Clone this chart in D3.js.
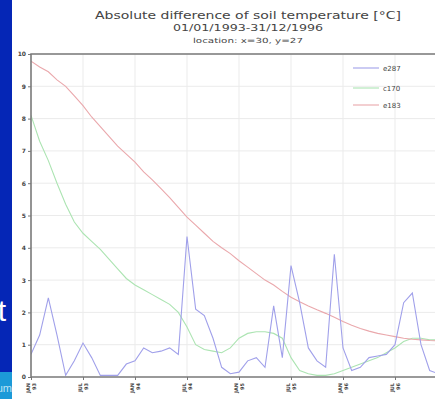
<!DOCTYPE html>
<html>
<head>
<meta charset="utf-8">
<script src="https://cdn.jsdelivr.net/npm/d3@7"></script>
<style>
html,body{margin:0;padding:0;background:#fff;}
svg{display:block;}
</style>
</head>
<body>
<svg id="chart" width="435" height="399"></svg>
<script>
// ---- data (monthly, Jan 1993 - Dec 1996) ----
const seriesNames = ["e287", "c170", "e183"];
const e287 = [0.7,1.3,2.45,1.3,0.05,0.5,1.05,0.6,0.05,0.05,0.05,0.4,
              0.5,0.9,0.75,0.8,0.9,0.7,4.35,2.1,1.9,1.2,0.3,0.1,
              0.15,0.5,0.6,0.3,2.2,0.6,3.45,2.3,0.9,0.5,0.3,3.8,
              0.9,0.2,0.3,0.6,0.65,0.7,1.0,2.3,2.6,1.0,0.2,0.1];
const c170 = [8.1,7.3,6.7,6.0,5.35,4.8,4.45,4.2,3.95,3.65,3.35,3.05,
              2.85,2.7,2.55,2.4,2.25,2.0,1.55,1.0,0.85,0.8,0.75,0.9,
              1.2,1.35,1.4,1.4,1.35,1.2,0.6,0.2,0.1,0.05,0.05,0.1,
              0.2,0.3,0.4,0.5,0.6,0.75,0.9,1.1,1.2,1.2,1.15,1.15];
const e183 = [9.78,9.6,9.45,9.2,9.0,8.7,8.4,8.05,7.75,7.45,7.15,6.9,
              6.65,6.35,6.1,5.83,5.55,5.25,4.95,4.7,4.45,4.2,4.0,3.82,
              3.6,3.4,3.2,3.0,2.85,2.65,2.47,2.33,2.2,2.08,1.97,1.85,
              1.72,1.6,1.5,1.42,1.35,1.3,1.25,1.2,1.17,1.15,1.13,1.12];
const xTickMonths = [0,6,12,18,24,30,36,42];
const xTickLabelMonth = ["JAN","JUL","JAN","JUL","JAN","JUL","JAN","JUL"];
const xTickLabelYear = ["93","93","94","94","95","95","96","96"];
const yTicks = [0,1,2,3,4,5,6,7,8,9,10];
const titleLines = ["Absolute difference of soil temperature [°C]",
                    "01/01/1993-31/12/1996",
                    "location: x=30, y=27"];

const colors = {e287:"#a0a0ea", c170:"#ace4b2", e183:"#eaa8ac"};

const svg = d3.select("#chart");
const L = 31, T = 54, B = 377;
const x = d3.scaleLinear().domain([0,48]).range([L, L + 8*52]);
const y = d3.scaleLinear().domain([0,10]).range([B, T]);
const R = x(48);

// grid
const grid = svg.append("g").attr("stroke","#ebebeb").attr("stroke-width",1);
yTicks.slice(1).forEach(v=>{
  grid.append("line").attr("x1",L).attr("x2",R).attr("y1",y(v)).attr("y2",y(v));
});
xTickMonths.slice(1).forEach(m=>{
  grid.append("line").attr("x1",x(m)).attr("x2",x(m)).attr("y1",T).attr("y2",B);
});

svg.append("defs").append("clipPath").attr("id","clip")
  .append("rect").attr("x",L).attr("y",T).attr("width",R-L).attr("height",B-T);

const line = d3.line().x((d,i)=>x(i)).y(d=>y(d));
const dataMap = {e287, c170, e183};
const plot = svg.append("g").attr("clip-path","url(#clip)");
["c170","e183","e287"].forEach(k=>{
  plot.append("path").datum(dataMap[k]).attr("d",line)
    .attr("fill","none").attr("stroke",colors[k]).attr("stroke-width",1.1);
});

// frame
svg.append("path")
  .attr("d",`M${R},${T}H${L}V${B}H${R}`)
  .attr("fill","none").attr("stroke","#7a7a7a").attr("stroke-width",1.6);

// y axis ticks
const yAxis = svg.append("g").attr("transform",`translate(${L},0)`)
  .call(d3.axisLeft(y).tickValues(yTicks).tickSize(3).tickPadding(2));
yAxis.select(".domain").remove();
yAxis.selectAll(".tick line").attr("stroke","#777");
yAxis.selectAll(".tick text").attr("font-family","DejaVu Sans").attr("font-size",6)
  .attr("font-weight","bold").attr("fill","#444");

// x axis ticks
const xAxis = svg.append("g").attr("transform",`translate(0,${B})`)
  .call(d3.axisBottom(x).tickValues(xTickMonths).tickSize(3).tickFormat(""));
xAxis.select(".domain").remove();
xAxis.selectAll(".tick line").attr("stroke","#777");
xTickMonths.forEach((m,i)=>{
  svg.append("text").attr("transform",`translate(${x(m)-1},${B+6}) rotate(-90)`)
    .attr("text-anchor","end").attr("font-family","DejaVu Sans").attr("font-size",5)
    .attr("font-weight","bold").attr("fill","#444").text(xTickLabelMonth[i]);
  svg.append("text").attr("transform",`translate(${x(m)+5},${B+6}) rotate(-90)`)
    .attr("text-anchor","end").attr("font-family","DejaVu Sans").attr("font-size",5)
    .attr("font-weight","bold").attr("fill","#444").text(xTickLabelYear[i]);
});

// titles
svg.append("text").attr("x",248).attr("y",19).attr("text-anchor","middle")
  .attr("font-family","DejaVu Sans").attr("font-size",10).attr("fill","#444")
  .attr("textLength",306).attr("lengthAdjust","spacingAndGlyphs").text(titleLines[0]);
svg.append("text").attr("x",248).attr("y",31).attr("text-anchor","middle")
  .attr("font-family","DejaVu Sans").attr("font-size",8).attr("fill","#444")
  .attr("textLength",150).attr("lengthAdjust","spacingAndGlyphs").text(titleLines[1]);
svg.append("text").attr("x",248).attr("y",43).attr("text-anchor","middle")
  .attr("font-family","DejaVu Sans").attr("font-size",7).attr("fill","#444")
  .attr("textLength",110).attr("lengthAdjust","spacingAndGlyphs").text(titleLines[2]);

// legend
const legY = [68,88,105];
seriesNames.forEach((k,i)=>{
  svg.append("line").attr("x1",353).attr("x2",379).attr("y1",legY[i]).attr("y2",legY[i])
    .attr("stroke",colors[k]).attr("stroke-width",1.1);
  svg.append("text").attr("x",383).attr("y",legY[i]+2.5).attr("font-family","DejaVu Sans")
    .attr("font-size",7).attr("fill","#444").text(k);
});

// slide remnants on the left
svg.append("rect").attr("x",0).attr("y",0).attr("width",12).attr("height",399).attr("fill","#0526b6");
svg.append("rect").attr("x",0).attr("y",372).attr("width",12).attr("height",27).attr("fill","#1c9ad8");
svg.append("text").attr("x",6).attr("y",321).attr("text-anchor","end")
  .attr("font-family","Liberation Sans").attr("font-size",30).attr("fill","#fff").text("t");
svg.append("text").attr("x",12).attr("y",392).attr("text-anchor","end")
  .attr("font-family","Liberation Sans").attr("font-size",11).attr("fill","#bfe3f5").text("um");
</script>
</body>
</html>
